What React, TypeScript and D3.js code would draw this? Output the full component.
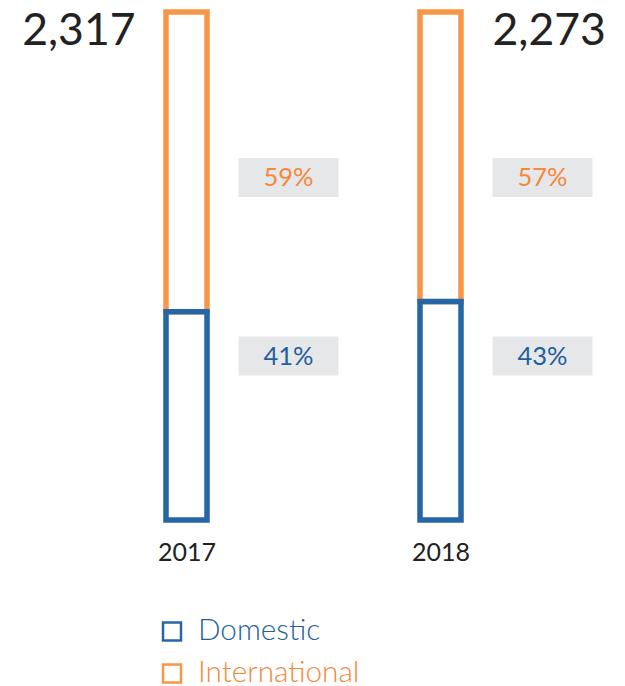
import React from "react";
import * as d3 from "d3";

const years = ["2017", "2018"];
const totals = [2317, 2273];
const domesticPct = [41, 43];
const internationalPct = [59, 57];
const seriesNames = ["Domestic", "International"];

const W = 625;
const H = 686;
const BLUE = "#2566a5";
const ORANGE = "#f79646";
const BLUE_TXT = "#1f5f9f";
const ORANGE_TXT = "#f5883a";
const GRAY = "#e6e7e8";
const FONT = "Lato, 'Open Sans', sans-serif";

export default function App() {
  const x = d3.scalePoint<string>().domain(years).range([186.5, 440.5]);
  const y = d3.scaleLinear().domain([0, 100]).range([520, 12]);
  const fmt = d3.format(",");

  return (
    <svg width={W} height={H} style={{ position: "absolute", left: 0, top: 0 }}>
      {years.map((yr, i) => {
        const cx = x(yr) as number;
        const x0 = cx - 20.5;
        const dom = domesticPct[i];
        const intl = internationalPct[i];
        return (
          <g key={yr}>
            <rect x={x0} y={y(dom + intl)} width={41} height={y(dom) - y(dom + intl)} fill="none" stroke={ORANGE} strokeWidth={5.5} />
            <rect x={x0} y={y(dom)} width={41} height={y(0) - y(dom)} fill="none" stroke={BLUE} strokeWidth={5.5} />
            <text
              x={i === 0 ? cx - 51 : cx + 52}
              y={45}
              textAnchor={i === 0 ? "end" : "start"}
              fontFamily={FONT}
              fontSize={44.5}
              fill="#222"
            >
              {fmt(totals[i])}
            </text>
            <rect x={cx + 52} y={158} width={100} height={39} fill={GRAY} />
            <text x={cx + 102} y={186} textAnchor="middle" fontFamily={FONT} fontSize={25.5} fill={ORANGE_TXT}>
              {intl}%
            </text>
            <rect x={cx + 52} y={336.5} width={100} height={39} fill={GRAY} />
            <text x={cx + 102} y={364.5} textAnchor="middle" fontFamily={FONT} fontSize={25.5} fill={BLUE_TXT}>
              {dom}%
            </text>
            <text x={cx + 0.5} y={561} textAnchor="middle" fontFamily={FONT} fontSize={25} fill="#222">
              {yr}
            </text>
          </g>
        );
      })}
      {seriesNames.map((s, i) => (
        <g key={s} transform={`translate(0, ${i * 42})`}>
          <rect x={163} y={622.5} width={18} height={18} fill="none" stroke={i === 0 ? BLUE : ORANGE} strokeWidth={2.5} />
          <text x={198} y={640} fontFamily={FONT} fontSize={29.7} fontWeight={300} fill={i === 0 ? BLUE_TXT : ORANGE_TXT}>
            {s}
          </text>
        </g>
      ))}
    </svg>
  );
}
